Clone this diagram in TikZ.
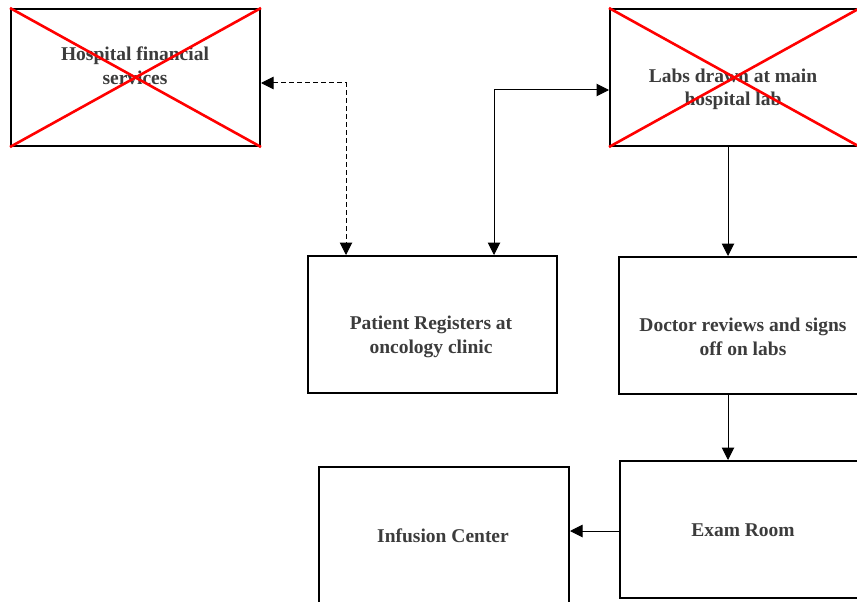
\documentclass[tikz,border=0pt]{standalone}
\usepackage{fontspec}
\setmainfont{Liberation Serif}
\usetikzlibrary{arrows.meta}
\definecolor{txt}{HTML}{3C3C3C}
\tikzset{
  box/.style={draw=black, line width=2pt, rectangle, inner sep=0pt, anchor=north west},
  lbl/.style={text=txt, font=\fontsize{19.5}{23.5}\selectfont\bfseries, align=center, inner sep=0pt},
  cross/.style={draw=red, line width=2.6pt},
  conn/.style={draw=black, line width=1pt, -{Triangle[length=12.5pt,width=12.5pt]}},
  conn2/.style={draw=black, line width=1pt, {Triangle[length=12.5pt,width=12.5pt]}-{Triangle[length=12.5pt,width=12.5pt]}},
}
\begin{document}
\begin{tikzpicture}[x=1pt,y=-1pt]
\clip (0,0) rectangle (857,602);
\fill[white] (0,0) rectangle (857,602);
% boxes
\node[box, minimum width=249pt, minimum height=137pt] (A) at (10,8) {};
\node[box, minimum width=249pt, minimum height=137pt] (B) at (609,8) {};
\node[box, minimum width=249pt, minimum height=137pt] (C) at (307,255) {};
\node[box, minimum width=250pt, minimum height=137pt] (D) at (618,256) {};
\node[box, minimum width=250pt, minimum height=137pt] (E) at (619,460) {};
\node[box, minimum width=250pt, minimum height=137pt] (F) at (318,466) {};
% labels
\node[lbl] (Alab) at (135,65.5) {Hospital financial\\services};
\node[lbl] (Blab) at (733,89.5) {Labs drawn at main\\hospital lab};
\node[lbl] (Clab) at (431,337) {Patient Registers at\\oncology clinic};
\node[lbl] (Dlab) at (743,337) {Doctor reviews and signs\\off on labs};
\node[lbl] (Elab) at (743,530) {Exam Room};
\node[lbl] (Flab) at (443,536) {Infusion Center};
% red crosses
\draw[cross] (A.north west) -- (A.south east);
\draw[cross] (A.south west) -- (A.north east);
\draw[cross] (B.north west) -- (B.south east);
\draw[cross] (B.south west) -- (B.north east);
% connectors
\coordinate (p1) at (346,83);
\coordinate (p2) at (494,90);
\draw[conn2, dashed, dash pattern=on 5pt off 3pt] (A.east |- p1) -- (p1) -- (p1 |- C.north);
\draw[conn2] (p2 |- C.north) -- (p2) -- (B.west |- p2);
\coordinate (p3) at (728,0);
\draw[conn] (p3 |- B.south) -- (p3 |- D.north);
\draw[conn] (p3 |- D.south) -- (p3 |- E.north);
\coordinate (p4) at (0,531);
\draw[conn] (E.west |- p4) -- (F.east |- p4);
\end{tikzpicture}
\end{document}
